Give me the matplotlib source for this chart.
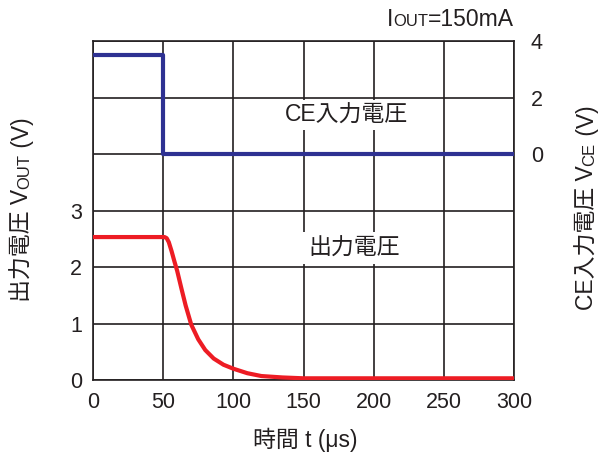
import matplotlib
matplotlib.use("Agg")
import matplotlib.pyplot as plt

# ---- data ----
t_ce = [0, 50, 50, 300]
v_ce = [3.5, 3.5, 0, 0]
t_out = [0, 51, 52.5, 54, 56, 58, 60, 63, 66, 70, 75, 80, 86, 93, 100, 110, 120, 135, 150, 200, 250, 300]
v_out = [2.53, 2.53, 2.51, 2.44, 2.28, 2.1, 1.93, 1.62, 1.32, 0.98, 0.72, 0.53, 0.38, 0.27, 0.2, 0.12, 0.07, 0.045, 0.03, 0.03, 0.03, 0.03]
x_ticks = [0, 50, 100, 150, 200, 250, 300]
left_ticks = [0, 1, 2, 3]
right_ticks = [0, 2, 4]

FAM = ['Liberation Sans', 'Noto Sans CJK JP']
plt.rcParams['font.family'] = FAM
TXT = '#231f20'
FS = 16.5
FS_SMALL = 12
FS_TICK = 15.5

W, H = 601, 458
fig = plt.figure(figsize=(W/100, H/100), dpi=100)
L, R, T, B = 93, 514, 41, 380
ax = fig.add_axes([L/W, 1-B/H, (R-L)/W, (B-T)/H])
ax.set_xlim(0, 300)
ax.set_ylim(0, 6)
ax.set_xticks(x_ticks)
ax.set_yticks(range(7))
ax.set_yticklabels([str(v) if v in left_ticks else '' for v in range(7)])
ax.tick_params(length=0, labelsize=FS_TICK, colors=TXT, pad=8)
ax.tick_params(axis='x', pad=9)
ax.grid(True, color=TXT, linewidth=1.2)
for s in ax.spines.values():
    s.set_color(TXT); s.set_linewidth(1.2)
ax.set_axisbelow(True)

ax2 = ax.twinx()
ax2.set_ylim(-8, 4)
ax2.set_yticks(right_ticks)
ax2.tick_params(length=0, labelsize=FS_TICK, colors=TXT, pad=12)
for s in ax2.spines.values():
    s.set_visible(False)

ax.plot(t_out, v_out, color='#ed1c24', lw=3, solid_joinstyle='round', zorder=3)
ax2.plot(t_ce, v_ce, color='#2e3192', lw=3, zorder=3)

fig.text(346/W, 1-115/H, 'CE入力電圧', ha='center', va='center', fontsize=FS, color=TXT,
         bbox=dict(facecolor='white', edgecolor='none', pad=2.5), zorder=5)
fig.text(354/W, 1-248/H, '出力電圧', ha='center', va='center', fontsize=FS, color=TXT,
         bbox=dict(facecolor='white', edgecolor='none', pad=3.5), zorder=5)

fig.text(305/W, 1-440/H, '時間 t (μs)', ha='center', va='center', fontsize=FS, color=TXT)

renderer = fig.canvas.get_renderer()

def pieces_width(pieces):
    ws = []
    for s, fs in pieces:
        tt = fig.text(0, 0, s, fontsize=fs)
        ws.append(tt.get_window_extent(renderer).width)
        tt.remove()
    return ws

def place(pieces, x, y, rot, align):
    ws = pieces_width(pieces)
    total = sum(ws)
    start = -total/2 if align == 'center' else -total
    pos = start
    for (s, fs), w in zip(pieces, ws):
        if rot == 0:
            px, py = x + pos, y
        else:
            px, py = x, y + pos
        fig.text(px/W, py/H, s, fontsize=fs, rotation=rot, rotation_mode='anchor',
                 ha='left', va='baseline', color=TXT)
        pos += w

# top annotation (pixel coords from bottom)
place([('I', FS), ('OUT', FS_SMALL), ('=150mA', FS)], 514, H-26, 0, 'right')
# left label
place([('出力電圧 V', FS), ('OUT', FS_SMALL), (' (V)', FS)], 29, H-210, 90, 'center')
# right label
place([('CE入力電圧 V', FS), ('CE', FS_SMALL), (' (V)', FS)], 594, H-208, 90, 'center')

fig.savefig('out.png', dpi=100)
